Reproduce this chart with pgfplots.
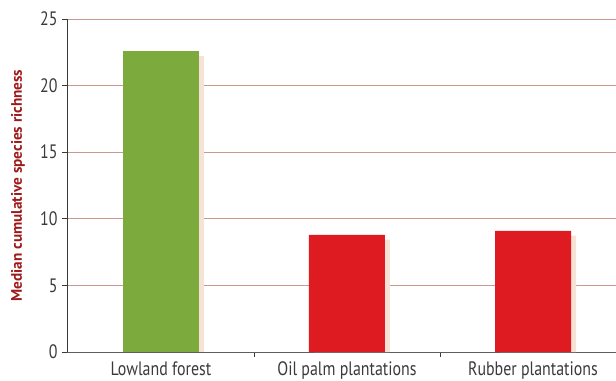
\documentclass[border=0pt]{standalone}
\usepackage{pgfplots}
\usepackage{pgfplotstable}
\pgfplotsset{compat=1.18}
\usepackage{fontspec}
\setmainfont[FakeStretch=0.82]{PT Sans}
\newfontfamily\labelfont{PT Sans}
\definecolor{gridrose}{HTML}{C99A8C}
\definecolor{forestgreen}{HTML}{7CAA3C}
\definecolor{plantred}{HTML}{DF1B22}
\definecolor{shadowpeach}{HTML}{F6E3D6}
\definecolor{labelred}{HTML}{9E1A1A}
\definecolor{tickgray}{HTML}{3A3A3A}
\definecolor{basegray}{HTML}{5E5E5E}

\pgfplotstableread{
x  value
0  22.6
}\forest
\pgfplotstableread{
x  value
1  8.8
2  9.1
}\plantations

\begin{document}
\begin{tikzpicture}
\begin{axis}[
  name=ax,
  scale only axis,
  width=549bp, height=333bp,
  xmin=-0.505, xmax=2.446,
  ymin=0, ymax=25,
  axis x line=bottom, axis y line=left,
  axis line style={-, tickgray, line width=0.9pt},
  x axis line style={basegray},
  xtick={0,1,2},
  xticklabels={Lowland forest, Oil palm plantations, Rubber plantations},
  major x tick style={draw=none},
  minor xtick={0.5,1.5},
  minor x tick style={tickgray, line width=0.9pt},
  minor tick length=5bp,
  ytick={0,5,...,25},
  major y tick style={tickgray, line width=0.8pt},
  major tick length=5bp,
  tick align=outside,
  ymajorgrids,
  grid style={gridrose, line width=0.9pt},
  /pgf/number format/assume math mode=true,
  tick label style={font=\fontsize{19.5}{21}\selectfont, text=tickgray},
  yticklabel style={xshift=-1bp},
  xticklabel style={yshift=-1bp},
  ylabel={\labelfont\bfseries Median cumulative species richness},
  ylabel style={font=\fontsize{15.3}{17}\selectfont, text=labelred,
    at={([xshift=-49bp]axis description cs:0,0.5)}, anchor=center},
  ybar, bar width=76bp,
  clip=false,
]
% soft shadow behind each bar
\addplot[fill=shadowpeach, draw=none, bar shift=5bp] table[x=x, y expr=\thisrow{value}-0.37] {\forest};
\addplot[fill=shadowpeach, draw=none, bar shift=5bp] table[x=x, y expr=\thisrow{value}-0.37] {\plantations};
% bars
\addplot[fill=forestgreen, draw=none, bar shift=0pt] table[x=x, y=value] {\forest};
\addplot[fill=plantred, draw=none, bar shift=0pt] table[x=x, y=value] {\plantations};
\end{axis}
\pgfresetboundingbox
\path ([xshift=-67bp,yshift=-29bp]ax.south west) rectangle ([yshift=19bp]ax.north east);
\end{tikzpicture}
\end{document}
